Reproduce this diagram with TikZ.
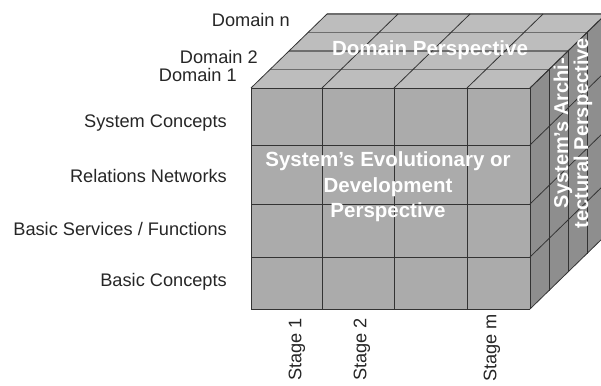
\documentclass[tikz,border=0pt]{standalone}
\usepackage{fontspec}
\setmainfont{Liberation Sans}
\definecolor{frontgray}{HTML}{ABABAB}
\definecolor{topgray}{HTML}{BDBDBD}
\definecolor{sidegray}{HTML}{8E8E8E}
\definecolor{linegray}{HTML}{333333}
\definecolor{toplinegray}{HTML}{6E6E6E}
\begin{document}
\begin{tikzpicture}[x=1pt,y=-1pt,
  grid/.style={draw=linegray, line width=0.8pt},
  topline/.style={draw=toplinegray, line width=1.6pt},
  lbl/.style={font=\fontsize{18.2}{20}\selectfont, text=black!85, inner sep=0pt},
  ttl/.style={font=\fontsize{20.5}{25.5}\selectfont\bfseries, text=white, inner sep=0pt, align=center},
  sidettl/.style={font=\fontsize{20}{20}\selectfont\bfseries, text=white, inner sep=0pt, align=center}]
\useasboundingbox (0,0) rectangle (601,385);
\clip (0,0) rectangle (601,385);
% faces
\fill[topgray] (251,88) -- (530,88) -- (606,14) -- (327,14) -- cycle;
\fill[sidegray] (530,88) -- (530,309) -- (606,235) -- (606,14) -- cycle;
\fill[frontgray] (251,88) rectangle (530,309);
% top face layer lines
\foreach \k in {1,2,3,4} {
  \draw[topline] ({251+19*\k},{88-18.5*\k}) -- ({530+19*\k},{88-18.5*\k});
}
% side face vertical lines
\foreach \k in {1,2,3} {
  \draw[grid] ({530+19*\k},{88-18.5*\k}) -- ({530+19*\k},{309-18.5*\k});
}
% columns: front verticals and top diagonals
\foreach \x in {251,322,394,467,530} {
  \draw[grid] (\x,88) -- (\x,309);
  \draw[grid] (\x,88) -- ({\x+76},14);
}
% rows: front horizontals and side diagonals
\foreach \y in {88,145,204,257,309} {
  \draw[grid] (251,\y) -- (530,\y);
  \draw[grid] (530,\y) -- (606,{\y-74});
}
% perspective titles
\node[ttl] (dp) at (430,50) {Domain Perspective};
\node[ttl] (ep) at (388,187) {System’s Evolutionary or\\Development\\Perspective};
\node[sidettl, rotate=90] (ap) at (573,133) {System’s Archi-\\tectural Perspective};
% domain labels
\node[lbl, anchor=east] (dn) at (290,20) {Domain n};
\node[lbl, anchor=east] (d2) at (258,57) {Domain 2};
\node[lbl, anchor=east] (d1) at (237,75) {Domain 1};
% row labels
\node[lbl, anchor=east] (sc) at (227,123) {System Concepts};
\node[lbl, anchor=east] (rn) at (227,176) {Relations Networks};
\node[lbl, anchor=east] (bs) at (227,229) {Basic Services / Functions};
\node[lbl, anchor=east] (bc) at (227,282) {Basic Concepts};
% stage labels
\node[lbl, rotate=90, anchor=east] (s1) at (297,318) {Stage 1};
\node[lbl, rotate=90, anchor=east] (s2) at (362,318) {Stage 2};
\node[lbl, rotate=90, anchor=east] (sm) at (492,314) {Stage m};
\end{tikzpicture}
\end{document}
